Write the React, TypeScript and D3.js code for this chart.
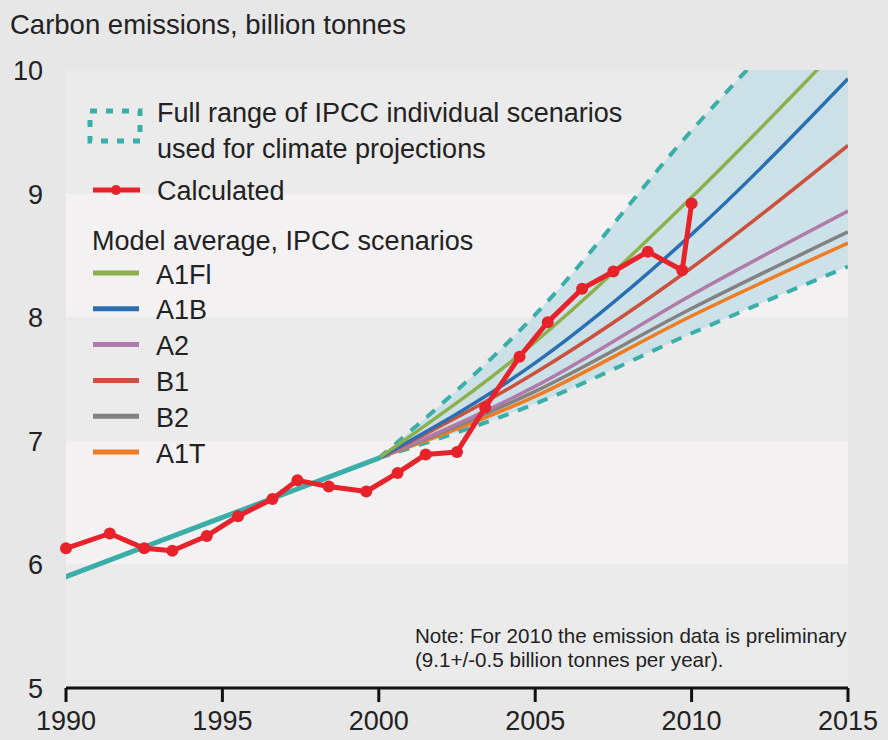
import React from "react";
import * as d3 from "d3";

// ---- Data ----
const calcYears = [1990, 1991.4, 1992.5, 1993.4, 1994.5, 1995.5, 1996.6, 1997.4, 1998.4, 1999.6, 2000.6, 2001.5, 2002.5, 2003.4, 2004.5, 2005.4, 2006.5, 2007.5, 2008.6, 2009.7, 2010];
const calcValues = [6.13, 6.25, 6.13, 6.11, 6.23, 6.39, 6.53, 6.68, 6.63, 6.59, 6.74, 6.89, 6.91, 7.27, 7.68, 7.96, 8.23, 8.37, 8.53, 8.38, 8.92];

const histYears = [1990, 1995, 2000];
const histValues = [5.9, 6.38, 6.86];

const scenYears = [2000, 2005, 2010, 2015];
const scenarioNames = ["A1Fl", "A1B", "A2", "B1", "B2", "A1T"];
const scenarioColors = ["#8db04c", "#2b6fb3", "#b07aa9", "#cc503e", "#828282", "#ef7c22"];
const a1fiValues = [6.86, 7.8, 8.97, 10.26];
const a1bValues = [6.86, 7.63, 8.67, 9.93];
const a2Values = [6.86, 7.44, 8.18, 8.86];
const b1Values = [6.86, 7.55, 8.4, 9.39];
const b2Values = [6.86, 7.4, 8.07, 8.69];
const a1tValues = [6.86, 7.36, 8.01, 8.6];
const scenarioValues = [a1fiValues, a1bValues, a2Values, b1Values, b2Values, a1tValues];

const rangeUpper = [6.86, 8.02, 9.51, 10.86];
const rangeLower = [6.86, 7.3, 7.87, 8.41];

const xTicks = [1990, 1995, 2000, 2005, 2010, 2015];
const yTicks = [5, 6, 7, 8, 9, 10];

const FONT = "'Liberation Sans', Arial, sans-serif";
const TEAL = "#3aaea8";
const RED = "#e8222b";

export default function App() {
  const W = 888, H = 740;
  const x = d3.scaleLinear().domain([1990, 2015]).range([66, 848]);
  const y = d3.scaleLinear().domain([5, 10]).range([688, 70]);

  const line = d3.line<[number, number]>().x(d => x(d[0])).y(d => y(d[1]));
  const smooth = d3.line<[number, number]>().x(d => x(d[0])).y(d => y(d[1])).curve(d3.curveMonotoneX);
  const area = d3.area<number>()
    .x(i => x(scenYears[i]))
    .y0(i => y(rangeLower[i]))
    .y1(i => y(rangeUpper[i]))
    .curve(d3.curveMonotoneX);

  const bands = d3.range(5, 10).map(v => ({ v, light: v === 6 || v === 8 }));
  const drawOrder = [5, 4, 2, 3, 1, 0];

  return (
    <svg width={W} height={H} style={{ position: "absolute", left: 0, top: 0, fontFamily: FONT }}>
      <defs>
        <clipPath id="plot">
          <rect x={x(1990)} y={y(10)} width={x(2015) - x(1990)} height={y(5) - y(10)} />
        </clipPath>
      </defs>
      <rect x={0} y={0} width={W} height={H} fill="#e7e7e7" />
      {bands.map(b => (
        <rect key={b.v} x={x(1990)} y={y(b.v + 1)} width={x(2015) - x(1990)} height={y(b.v) - y(b.v + 1)}
          fill={b.light ? "#f3f1f2" : "#ecebeb"} />
      ))}

      <text x={10} y={34} fontSize={27.5} fill="#222">Carbon emissions, billion tonnes</text>

      {yTicks.map(t => (
        <text key={t} x={43} y={y(t) + 10} fontSize={27} textAnchor="end" fill="#222">{t}</text>
      ))}

      <g clipPath="url(#plot)">
        <path d={area(d3.range(scenYears.length)) || ""} fill="#c6dfe6" opacity={0.85} />
        <path d={smooth(scenYears.map((yr, i) => [yr, rangeUpper[i]] as [number, number])) || ""}
          fill="none" stroke={TEAL} strokeWidth={4} strokeDasharray="11 10" />
        <path d={smooth(scenYears.map((yr, i) => [yr, rangeLower[i]] as [number, number])) || ""}
          fill="none" stroke={TEAL} strokeWidth={4} strokeDasharray="11 10" />
        {drawOrder.map(k => (
          <path key={k} d={smooth(scenYears.map((yr, i) => [yr, scenarioValues[k][i]] as [number, number])) || ""}
            fill="none" stroke={scenarioColors[k]} strokeWidth={3.5} />
        ))}
        <path d={line(histYears.map((yr, i) => [yr, histValues[i]] as [number, number])) || ""}
          fill="none" stroke={TEAL} strokeWidth={5} strokeLinecap="round" />
        <path d={line(calcYears.map((yr, i) => [yr, calcValues[i]] as [number, number])) || ""}
          fill="none" stroke={RED} strokeWidth={5} strokeLinejoin="round" />
      </g>
      {calcYears.map((yr, i) => (
        <circle key={i} cx={x(yr)} cy={y(calcValues[i])} r={6} fill={RED} />
      ))}

      {/* Legend */}
      <rect x={90} y={111} width={50} height={30} fill="none" stroke={TEAL} strokeWidth={5} strokeDasharray="7 9" />
      <text x={157} y={122} fontSize={27} fill="#222">Full range of IPCC individual scenarios</text>
      <text x={157} y={158} fontSize={27} fill="#222">used for climate projections</text>
      <line x1={93} x2={140} y1={190} y2={190} stroke={RED} strokeWidth={5} />
      <circle cx={116} cy={190} r={5} fill={RED} />
      <text x={157} y={200} fontSize={27} fill="#222">Calculated</text>
      <text x={92} y={250} fontSize={27} fill="#222">Model average, IPCC scenarios</text>
      {scenarioNames.map((n, i) => {
        const ly = 273 + i * 35.8;
        return (
          <g key={n}>
            <line x1={93} x2={139} y1={ly} y2={ly} stroke={scenarioColors[i]} strokeWidth={5} />
            <text x={156} y={ly + 10.5} fontSize={27} fill="#222">{n}</text>
          </g>
        );
      })}

      {/* Note */}
      <text x={415} y={643} fontSize={20.6} fill="#222">Note: For 2010 the emission data is preliminary</text>
      <text x={415} y={667} fontSize={20.6} fill="#222">(9.1+/-0.5 billion tonnes per year).</text>

      {/* X axis */}
      <line x1={x(1990)} x2={x(2015)} y1={y(5)} y2={y(5)} stroke="#111" strokeWidth={3} />
      {xTicks.map(t => (
        <g key={t}>
          <line x1={x(t)} x2={x(t)} y1={y(5)} y2={y(5) + 14} stroke="#111" strokeWidth={3} />
          <text x={x(t)} y={730} fontSize={27} textAnchor="middle" fill="#222">{t}</text>
        </g>
      ))}
    </svg>
  );
}
